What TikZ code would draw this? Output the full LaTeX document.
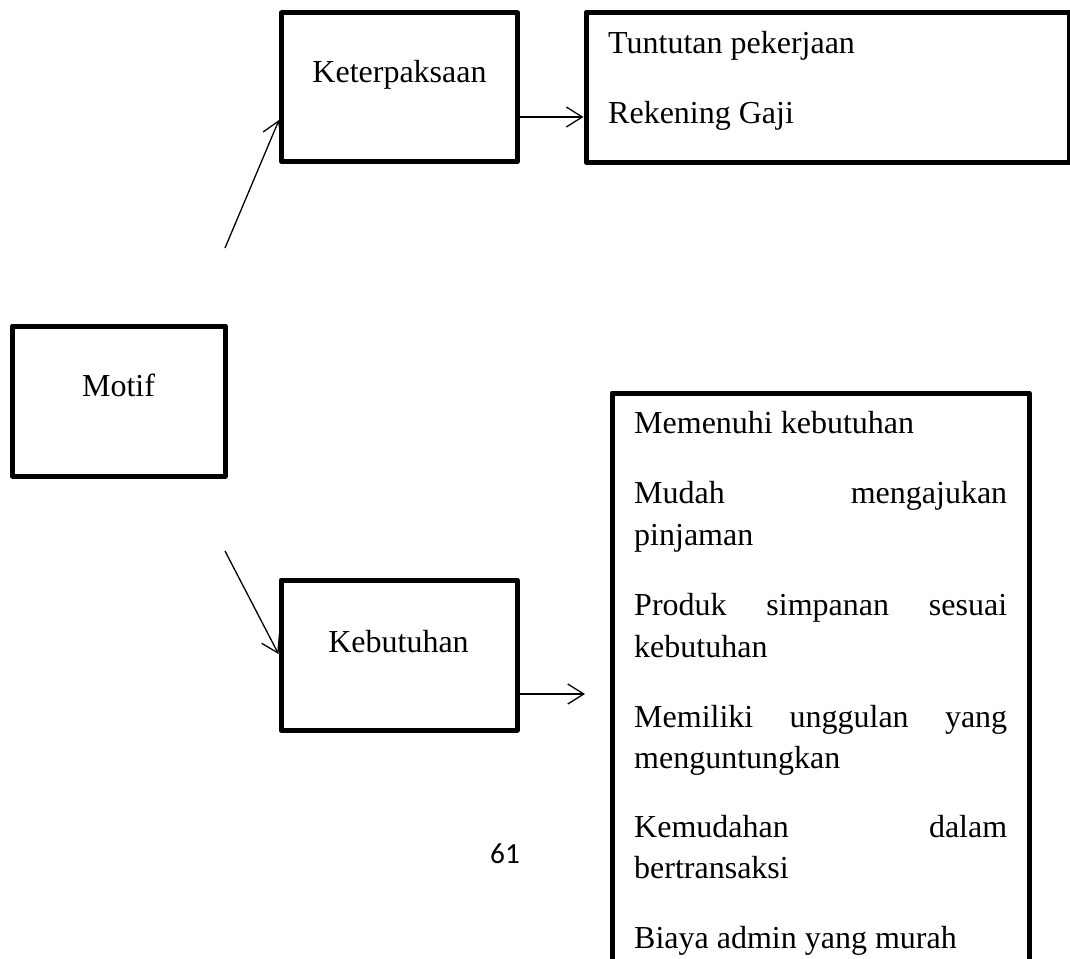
\documentclass[tikz,border=0pt]{standalone}
\usepackage{fontspec}
\setmainfont{Liberation Serif}
\newfontfamily\numfont{Carlito}
\usetikzlibrary{arrows.meta}
\begin{document}
\begin{tikzpicture}[x=1pt,y=-1pt,
  box/.style={draw, line width=5pt, line join=round, inner sep=0pt},
  lbl/.style={font=\fontsize{32}{42}\selectfont, inner sep=0pt, anchor=base},
  item/.style={font=\fontsize{32}{42}\selectfont, inner sep=0pt, anchor=base west},
  pagenum/.style={font=\numfont\fontsize{29.3}{35}\selectfont, inner sep=0pt, anchor=base},
  arr/.style={line width=1.3pt, -{Straight Barb[length=16pt, width=20pt, line width=1.3pt]}}
]
\useasboundingbox (0,0) rectangle (1070,958);
\clip (0,0) rectangle (1070,958);
\fill[white] (0,0) rectangle (1070,958);

% boxes
\node[box, minimum width=236pt, minimum height=148.5pt] (ket) at (399.5,87.25) {};
\node[box, minimum width=483pt, minimum height=149.5pt] (tr) at (827.5,87.25) {};
\node[box, minimum width=212.7pt, minimum height=150pt] (motif) at (118.85,401) {};
\node[box, minimum width=236pt, minimum height=150pt] (keb) at (399,655) {};
\node[box, minimum width=417pt, minimum height=607pt] (big) at (820.5,696.5) {};

% labels
\node[lbl] (tket) at (399.5,82) {Keterpaksaan};
\node[lbl] (tmotif) at (118.5,396) {Motif};
\node[lbl] (tkeb) at (398.5,652) {Kebutuhan};
\node[item] (t1) at (608,53) {Tuntutan pekerjaan};
\node[item] (t2) at (608,123) {Rekening Gaji};

\node[item] (m1) at (634,433) {Memenuhi kebutuhan};
\node[item] (m2) at (634,503) {\hbox to 373pt{Mudah\hfill mengajukan}};
\node[item] (m3) at (634,545) {pinjaman};
\node[item] (m4) at (634,615) {\hbox to 373pt{Produk\hfill simpanan\hfill sesuai}};
\node[item] (m5) at (634,657) {kebutuhan};
\node[item] (m6) at (634,727) {\hbox to 373pt{Memiliki\hfill unggulan\hfill yang}};
\node[item] (m7) at (634,768) {menguntungkan};
\node[item] (m8) at (634,837) {\hbox to 373pt{Kemudahan\hfill dalam}};
\node[item] (m9) at (634,878) {bertransaksi};
\node[item] (m10) at (634,948) {Biaya admin yang murah};

\node[pagenum] (pg) at (505,863) {61};

% connectors
\coordinate (s1) at (225,248);
\coordinate (s2) at (225,551);
\coordinate (e1) at (585,694);
\draw[arr] (s1) -- (ket.west |- 0,120);
\draw[arr] (s2) -- (keb.west |- 0,654);
\draw[arr] (ket.east |- 0,117) -- (tr.west |- 0,117);
\draw[arr] (keb.east |- 0,694) -- (e1);
\end{tikzpicture}
\end{document}
